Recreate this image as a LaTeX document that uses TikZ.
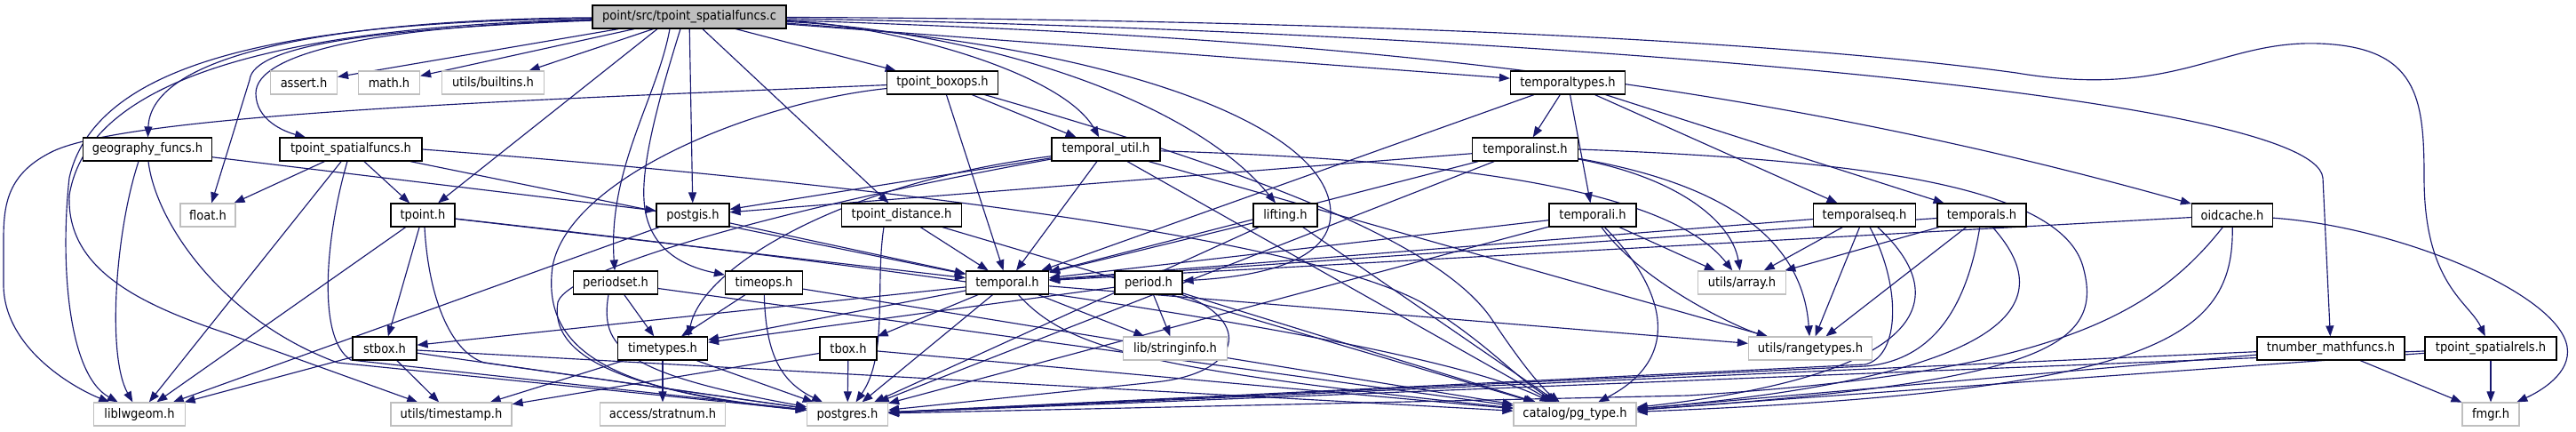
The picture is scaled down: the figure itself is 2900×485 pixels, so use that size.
\documentclass[tikz,border=0pt]{standalone}
\usepackage{fontspec}
\setmainfont{DejaVu Sans Condensed}
\usetikzlibrary{arrows.meta}
\definecolor{edgeblue}{HTML}{191970}
\definecolor{greyb}{HTML}{BFBFBF}
\pgfdeclarelayer{bg}
\pgfdeclarelayer{paper}
\pgfsetlayers{paper,bg,main}
\begin{document}
\begin{tikzpicture}[x=1pt,y=-1pt,
 hb/.style={draw=black, fill=white, line width=1.2pt, minimum height=26pt, inner sep=0pt, font=\fontsize{14.5}{16}\selectfont},
 sb/.style={hb, draw=greyb},
 rb/.style={hb, fill=greyb},
 e/.style={draw=edgeblue, line width=1.15pt, -{Triangle[length=12pt,width=9pt]}}]
\begin{pgfonlayer}{paper}
\fill[white] (0,0) rectangle (2900,485);
\end{pgfonlayer}
\useasboundingbox (0,0) rectangle (2900,485);
% row 1
\node[rb, minimum width=218pt] (root) at (776,19) {point/src/tpoint\_spatialfuncs.c};
% row 2
\node[sb, minimum width=75pt] (assert) at (342,93) {assert.h};
\node[sb, minimum width=69pt] (math) at (438,93) {math.h};
\node[sb, minimum width=115pt] (builtins) at (555,93) {utils/builtins.h};
\node[hb, minimum width=125pt] (boxops) at (1061,93) {tpoint\_boxops.h};
\node[hb, minimum width=129pt] (ttypes) at (1765,93) {temporaltypes.h};
% row 3
\node[hb, minimum width=145pt] (geog) at (166,168) {geography\_funcs.h};
\node[hb, minimum width=160pt] (tsfh) at (395,168) {tpoint\_spatialfuncs.h};
\node[hb, minimum width=122pt] (tutil) at (1245,168) {temporal\_util.h};
\node[hb, minimum width=119pt] (tinst) at (1717,168) {temporalinst.h};
% row 4
\node[sb, minimum width=62pt] (float) at (234,242) {float.h};
\node[hb, minimum width=72pt] (tpoint) at (476,242) {tpoint.h};
\node[hb, minimum width=82pt] (postgis) at (780,242) {postgis.h};
\node[hb, minimum width=135pt] (tdist) at (1015,242) {tpoint\_distance.h};
\node[hb, minimum width=72pt] (lifting) at (1447,242) {lifting.h};
\node[hb, minimum width=98pt] (tinsti) at (1793,242) {temporali.h};
\node[hb, minimum width=115pt] (tseq) at (2099,242) {temporalseq.h};
\node[hb, minimum width=100pt] (ts) at (2231,242) {temporals.h};
\node[hb, minimum width=91pt] (oid) at (2513,242) {oidcache.h};
% row 5
\node[hb, minimum width=95pt] (periodset) at (693,318) {periodset.h};
\node[hb, minimum width=87pt] (timeops) at (860,318) {timeops.h};
\node[hb, minimum width=93pt] (temporal) at (1134,318) {temporal.h};
\node[hb, minimum width=76pt] (period) at (1293,318) {period.h};
\node[sb, minimum width=99pt] (array) at (1961,318) {utils/array.h};
% row 6
\node[hb, minimum width=72pt] (stbox) at (433,392) {stbox.h};
\node[hb, minimum width=101pt] (timetypes) at (746,392) {timetypes.h};
\node[hb, minimum width=64pt] (tbox) at (955,392) {tbox.h};
\node[sb, minimum width=117pt] (stringinfo) at (1323,392) {lib/stringinfo.h};
\node[sb, minimum width=139pt] (rangetypes) at (2038,392) {utils/rangetypes.h};
\node[hb, minimum width=166pt] (tmath) at (2624,392) {tnumber\_mathfuncs.h};
\node[hb, minimum width=148pt] (tsrels) at (2804,392) {tpoint\_spatialrels.h};
% row 7
\node[sb, minimum width=103pt] (liblwgeom) at (157,466) {liblwgeom.h};
\node[sb, minimum width=136pt] (timestamp) at (508,466) {utils/timestamp.h};
\node[sb, minimum width=141pt] (stratnum) at (746,466) {access/stratnum.h};
\node[sb, minimum width=91pt] (postgres) at (954,466) {postgres.h};
\node[sb, minimum width=138pt] (pgtype) at (1773,466) {catalog/pg\_type.h};
\node[sb, minimum width=64pt] (fmgr) at (2804,466) {fmgr.h};

\begin{pgfonlayer}{bg}
% root
\draw[e] (root) -- (assert);
\draw[e] (root) -- (math);
\draw[e] (root) -- (builtins);
\draw[e] (root) .. controls (430,32) and (285,50) .. (281,90) -- (float);
\draw[e] (root) .. controls (380,22) and (170,60) .. (geog);
\draw[e] (root) .. controls (350,25) and (110,60) .. (78,200) .. controls (68,290) and (75,420) .. (liblwgeom);
\draw[e] (root) .. controls (340,30) and (100,80) .. (78,220) .. controls (75,300) and (150,340) .. (255,375) -- (timestamp);
\draw[e] (root) .. controls (420,30) and (288,60) .. (288,105) .. controls (288,135) and (320,148) .. (tsfh);
\draw[e] ([xshift=-36pt]root.south) -- (tpoint);
\draw[e] (root) -- (postgis);
\draw[e] ([xshift=-22pt]root.south) .. controls (740,110) and (684,190) .. (periodset);
\draw[e] ([xshift=-10pt]root.south) .. controls (745,100) and (722,180) .. (725,225) .. controls (728,280) and (770,300) .. (timeops);
\draw[e] ([xshift=15pt]root.south) -- (tdist);
\draw[e] (root) -- (boxops);
\draw[e] (root) .. controls (1000,28) and (1195,80) .. (tutil);
\draw[e] (root) .. controls (1100,35) and (1340,110) .. (lifting);
\draw[e] (root) .. controls (1250,50) and (1498,140) .. (1498,240) .. controls (1498,300) and (1400,312) .. (period);
\draw[e] (root) -- (ttypes);
\draw[e] (root) .. controls (1400,40) and (1900,70) .. (oid);
\draw[e] (root) .. controls (1700,35) and (2605,105) .. (2615,200) -- (tmath);
\draw[e] (root) .. controls (1500,22) and (2000,45) .. (2270,82) .. controls (2450,112) and (2500,45) .. (2611,49) .. controls (2722,53) and (2729,110) .. (2729,200) .. controls (2729,320) and (2780,340) .. (tsrels);
% boxops
\draw[e] (boxops) -- (tutil);
\draw[e] (boxops) -- (temporal);
\draw[e] (boxops) .. controls (600,112) and (150,128) .. (60,170) .. controls (8,195) and (4,230) .. (4,270) -- (4,320) .. controls (4,390) and (80,435) .. (liblwgeom);
\draw[e] (boxops) .. controls (850,115) and (640,200) .. (622,300) .. controls (610,390) and (680,440) .. (postgres);
\draw[e] (boxops) .. controls (1400,190) and (1620,270) .. (1680,360) .. controls (1720,420) and (1740,440) .. (pgtype);
% geography
\draw[e] (geog) -- (postgis);
\draw[e] ([xshift=-10pt]geog.south) .. controls (130,260) and (120,400) .. (liblwgeom);
\draw[e] ([xshift=1pt]geog.south) .. controls (175,250) and (250,360) .. (380,408) -- (postgres);
% tpoint_spatialfuncs.h
\draw[e] (tsfh) -- (float);
\draw[e] (tsfh) -- (tpoint);
\draw[e] (tsfh) -- (liblwgeom);
\draw[e] (tsfh) .. controls (368,260) and (355,380) .. (395,405) -- (postgres);
\draw[e] (tsfh) -- (temporal);
\draw[e] (tsfh.east) .. controls (900,200) and (1450,260) .. (1600,340) .. controls (1680,390) and (1700,420) .. (pgtype);
% tpoint.h
\draw[e] (tpoint) -- (liblwgeom);
\draw[e] (tpoint) -- (stbox);
\draw[e] ([xshift=2pt]tpoint.south) .. controls (482,330) and (505,395) .. (545,408) -- (postgres);
\draw[e] (tpoint) -- (temporal);
\draw[e] (tpoint) .. controls (1000,300) and (1600,380) .. (pgtype);
% postgis
\draw[e] (postgis) -- (liblwgeom);
\draw[e] (postgis) -- (temporal);
% tpoint_distance
\draw[e] (tdist) -- (temporal);
\draw[e] ([xshift=-20pt]tdist.south) .. controls (985,320) and (1000,400) .. (postgres);
\draw[e] (tdist) -- (pgtype);
% temporal_util
\draw[e] (tutil) -- (postgis);
\draw[e] (tutil) .. controls (950,205) and (790,300) .. ([xshift=29pt]timetypes.north);
\draw[e] (tutil) -- (temporal);
\draw[e] (tutil) .. controls (900,230) and (640,300) .. (628,340) .. controls (618,400) and (700,440) .. (postgres);
\draw[e] (tutil) -- (pgtype);
\draw[e] (tutil) .. controls (1650,180) and (1880,215) .. (array);
\draw[e] (tutil) -- (rangetypes);
% lifting
\draw[e] (lifting) -- (temporal);
\draw[e] (lifting) -- (postgres);
\draw[e] (lifting) -- (pgtype);
% temporaltypes
\draw[e] (ttypes) -- (temporal);
\draw[e] (ttypes) -- (tinst);
\draw[e] (ttypes) -- (tinsti);
\draw[e] (ttypes) -- (tseq);
\draw[e] (ttypes) -- (ts);
% temporalinst
\draw[e] (tinst) -- (temporal);
\draw[e] (tinst) -- (postgis);
\draw[e] (tinst) .. controls (1890,200) and (1950,250) .. (array);
\draw[e] (tinst) .. controls (1960,210) and (2030,280) .. (rangetypes);
\draw[e] (tinst) -- (postgres);
\draw[e] (tinst.east) .. controls (2100,180) and (2320,210) .. (2345,300) .. controls (2370,390) and (2300,430) .. (pgtype);
% temporali
\draw[e] (tinsti) -- (temporal);
\draw[e] (tinsti) -- (array);
\draw[e] (tinsti) .. controls (1850,320) and (1960,370) .. (rangetypes);
\draw[e] (tinsti) -- (postgres);
\draw[e] (tinsti) .. controls (1870,320) and (1900,400) .. (pgtype);
% temporalseq
\draw[e] (tseq) -- (temporal);
\draw[e] (tseq) -- (array);
\draw[e] (tseq) -- (rangetypes);
\draw[e] ([xshift=6pt]tseq.south) .. controls (2140,320) and (2140,400) .. (2100,410) -- (postgres);
\draw[e] (tseq) .. controls (2195,330) and (2185,420) .. (pgtype);
% temporals
\draw[e] (ts) -- (temporal);
\draw[e] (ts) -- (array);
\draw[e] (ts) -- (rangetypes);
\draw[e] (ts) .. controls (2215,340) and (2180,405) .. (2100,412) -- (postgres);
\draw[e] (ts) .. controls (2310,330) and (2300,420) .. (pgtype);
% oidcache
\draw[e] (oid) -- (temporal);
\draw[e] (oid) .. controls (2420,360) and (2300,420) .. (1900,445) -- (postgres);
\draw[e] (oid) .. controls (2515,380) and (2430,440) .. (pgtype);
\draw[e] (oid) .. controls (2700,255) and (2880,330) .. (2890,390) .. controls (2895,420) and (2860,440) .. (fmgr);
% tnumber_mathfuncs
\draw[e] (tmath) -- (postgres);
\draw[e] (tmath) -- (pgtype);
\draw[e] (tmath) -- (fmgr);
% tpoint_spatialrels
\draw[e] (tsrels) -- (postgres);
\draw[e] (tsrels) -- (pgtype);
\draw[e] (tsrels) -- (fmgr);
% period
\draw[e] (period) -- (timetypes);
\draw[e] (period) -- (stringinfo);
\draw[e] (period) .. controls (1410,360) and (1400,420) .. (1300,430) -- (postgres);
\draw[e] (period) -- (pgtype);
% periodset
\draw[e] (periodset) -- (timetypes);
\draw[e] ([xshift=-8pt]periodset.south) .. controls (675,390) and (700,420) .. (postgres);
\draw[e] (periodset) -- (pgtype);
% timeops
\draw[e] (timeops) -- (timetypes);
\draw[e] (timeops) .. controls (862,400) and (880,430) .. (postgres);
\draw[e] (timeops) -- (pgtype);
% temporal
\draw[e] (temporal) -- (stbox);
\draw[e] (temporal) -- (timetypes);
\draw[e] (temporal) -- (tbox);
\draw[e] (temporal) -- (postgres);
\draw[e] (temporal) .. controls (1200,390) and (1280,415) .. (pgtype);
\draw[e] (temporal) -- (stringinfo);
\draw[e] (temporal) -- (rangetypes);
% timetypes
\draw[e] (timetypes) -- (timestamp);
\draw[e] (timetypes) -- (stratnum);
\draw[e] (timetypes) -- (postgres);
% stbox
\draw[e] (stbox) -- (liblwgeom);
\draw[e] (stbox) -- (timestamp);
\draw[e] (stbox) -- (postgres);
\draw[e] (stbox) -- (pgtype);
% tbox
\draw[e] (tbox) -- (timestamp);
\draw[e] (tbox) -- (postgres);
\draw[e] (tbox) -- (pgtype);
\end{pgfonlayer}
\end{tikzpicture}
\end{document}
